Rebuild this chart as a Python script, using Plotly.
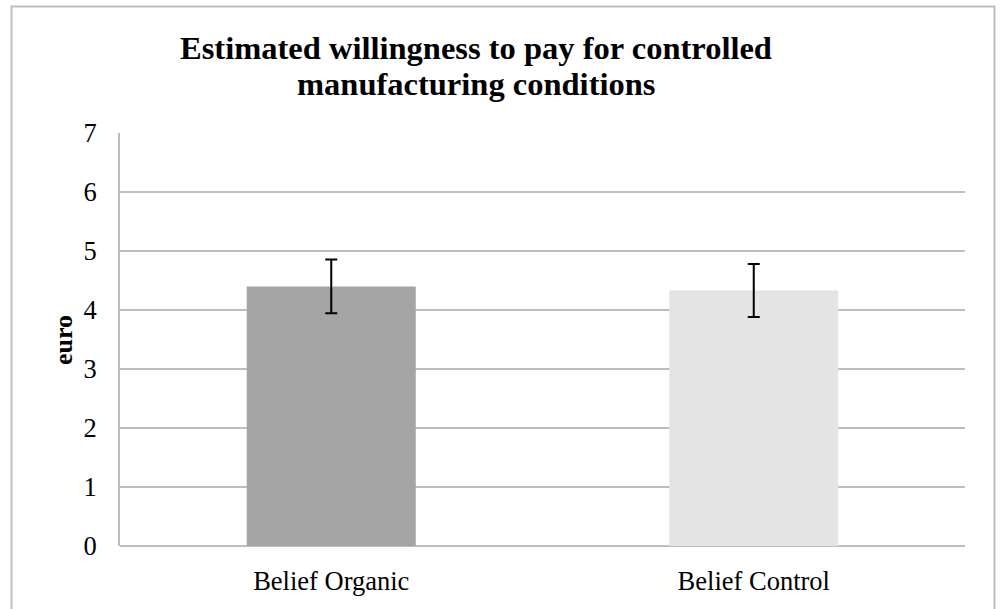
import plotly.graph_objects as go

categories = ["Belief Organic", "Belief Control"]
values = [4.40, 4.33]
errors = [0.455, 0.45]
bar_colors = ["#A5A5A5", "#E4E4E4"]
y_ticks = [0, 1, 2, 3, 4, 5, 6, 7]
title_lines = ["Estimated willingness to pay for controlled", "manufacturing conditions"]

W, H = 1000, 609
L, R, T, B = 120, 35, 133, 63
pw, ph = W - L - R, H - T - B

def px_x(px):
    return (px - L) / pw

def px_y(py):
    return (H - B - py) / ph

fig = go.Figure()
fig.add_trace(go.Bar(
    x=categories, y=values,
    marker=dict(color=bar_colors, line=dict(width=0)),
    error_y=dict(type="data", array=errors, visible=True, color="black", thickness=2, width=6),
    showlegend=False,
))

font_family = "Liberation Serif, Times New Roman, serif"

title_annots = [
    dict(
        text="<b>" + txt + "</b>",
        xref="paper", yref="paper",
        x=px_x(476), y=px_y(cy), xanchor="center", yanchor="middle",
        showarrow=False, align="center",
        font=dict(family=font_family, size=32.5, color="black"),
    )
    for txt, cy in zip(title_lines, [48, 84])
]

fig.update_layout(
    width=W, height=H,
    margin=dict(l=L, r=R, t=T, b=B),
    paper_bgcolor="white", plot_bgcolor="white",
    bargap=0.6,
    font=dict(family=font_family, color="black", size=26),
    annotations=title_annots + [
        dict(
            text="<b>euro</b>", xref="paper", yref="paper",
            x=px_x(63), y=px_y(340), xanchor="center", yanchor="middle",
            textangle=-90, showarrow=False,
            font=dict(size=26, family=font_family, color="black"),
        ),
    ],
    xaxis=dict(
        showgrid=False, showline=False, ticks="",
        tickfont=dict(size=26.5, family=font_family, color="black"),
        ticklabelstandoff=16,
    ),
    yaxis=dict(
        range=[0, 7], tickvals=y_ticks,
        showgrid=True, gridcolor="#BDBDBD", gridwidth=2,
        showline=True, linecolor="#BDBDBD", linewidth=2,
        zeroline=True, zerolinecolor="#BDBDBD", zerolinewidth=2,
        ticks="", ticklabelstandoff=16,
        tickfont=dict(size=26.5, family=font_family, color="black"),
    ),
    shapes=[dict(
        type="rect", xref="paper", yref="paper",
        x0=px_x(11.5), x1=px_x(994.5), y0=px_y(640), y1=px_y(6.5),
        line=dict(color="#BDBDBD", width=2), fillcolor="rgba(0,0,0,0)",
        layer="below",
    )],
)

fig.write_html("out.html", config={"displayModeBar": False},
               post_script="document.body.style.margin='0';")
